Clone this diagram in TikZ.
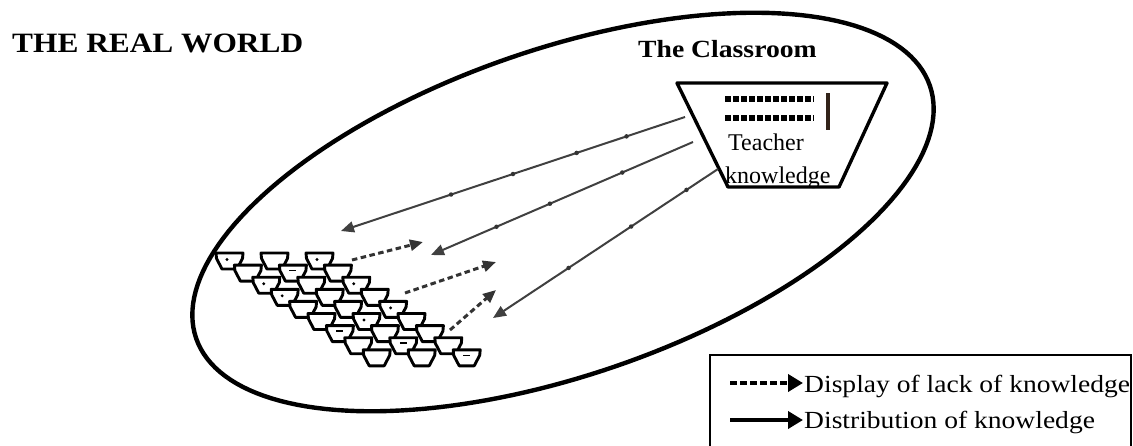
\documentclass[tikz,border=0pt]{standalone}
\usepackage{fontspec}
\setmainfont{Liberation Serif}
\newfontfamily\wfont{Liberation Serif}[FakeStretch=1.12]
\usetikzlibrary{arrows.meta}
\begin{document}
\begin{tikzpicture}[x=1pt,y=-1pt,
  lbl/.style={inner sep=0pt, anchor=base west},
  tiphead/.style={-{Triangle[length=13pt,width=11pt]}},
  solidarrow/.style={tiphead, draw=black!75, line width=2pt},
  dasharrow/.style={tiphead, draw=black!80, line width=3pt, dash pattern=on 5.5pt off 3.5pt},
  dotmark/.style={circle, fill=black!80, inner sep=0pt, minimum size=4.5pt},
  desk/.style={fill=white, draw=black, line width=2.9pt, line join=round},
  legarrow/.style={-{Triangle[length=15pt,width=17pt]}, draw=black, line width=4pt},
]
\useasboundingbox (0,0) rectangle (1133,445);

% the real world
\draw[line width=4.4pt] plot[domain=0:360,samples=181,variable=\t]
  ({563+388*cos(\t)*0.9455+163*sin(\t)*0.3256},{212-388*cos(\t)*0.3256+163*sin(\t)*0.9455}) -- cycle;

\node[lbl] (world) at (12,52) {\wfont\bfseries\fontsize{28}{30}\selectfont THE REAL WORLD};
\node[lbl] (room) at (638,57) {\wfont\bfseries\fontsize{24.7}{27}\selectfont The Classroom};

% teacher desk
\coordinate (tl) at (677,83);
\coordinate (tr) at (887,83);
\coordinate (br) at (839,187);
\coordinate (bl) at (728,187);
\draw[line width=3.4pt, line join=round] (tl) -- (tr) -- (br) -- (bl) -- cycle;
\coordinate (r1a) at (725,99);  \coordinate (r1b) at (814,99);
\coordinate (r2a) at (725,118); \coordinate (r2b) at (814,118);
\draw[line width=5.5pt, dash pattern=on 5.5pt off 2.5pt] (r1a) -- (r1b);
\draw[line width=5.5pt, dash pattern=on 5.5pt off 2.5pt] (r2a) -- (r2b);
\coordinate (bara) at (828,93); \coordinate (barb) at (828,130);
\draw[line width=4.8pt, draw={rgb,255:red,50;green,35;blue,25}] (bara) -- (barb);
\node[lbl] (teacher) at (728,150) {\fontsize{24}{26}\selectfont Teacher};
\node[lbl] (know) at (725,183) {\fontsize{24}{26}\selectfont knowledge};

% student desks
\foreach \r in {0,...,8} {
  \foreach \c in {0,1,2} {
    \path[desk] ({216+18.4*\r+45*\c},{253+12.1*\r}) -- ++(27,0) -- ++(-0.5,5.5) -- ++(-5.5,10.5) -- ++(-15,0) -- ++(-5.5,-10.5) -- cycle;
  }
}
\foreach \r/\c in {0/0,0/2,2/0,2/2,3/0,4/2,5/1} {
  \fill ({216+18.4*\r+45*\c+11},{253+12.1*\r+6.5}) circle (1.6pt);
}
\foreach \r/\c in {1/1,6/0,7/1,8/2} {
  \draw[line width=1.6pt] ({216+18.4*\r+45*\c+10},{253+12.1*\r+5.5}) -- ++(7,0);
}

% distribution of knowledge
\coordinate (s1) at (685,117); \coordinate (e1) at (341,231);
\coordinate (s2) at (693,142); \coordinate (e2) at (431,255);
\coordinate (s3) at (718,169); \coordinate (e3) at (493,318);
\draw[solidarrow] (s1) -- node[dotmark,pos=.17]{} node[dotmark,pos=.315]{} node[dotmark,pos=.5]{} node[dotmark,pos=.68]{} (e1);
\draw[solidarrow] (s2) -- node[dotmark,pos=.27]{} node[dotmark,pos=.546]{} node[dotmark,pos=.75]{} (e2);
\draw[solidarrow] (s3) -- node[dotmark,pos=.14]{} node[dotmark,pos=.386]{} node[dotmark,pos=.664]{} (e3);

% display of lack of knowledge
\coordinate (d1s) at (352,260); \coordinate (d1e) at (423,242);
\coordinate (d2s) at (405,293); \coordinate (d2e) at (496,262);
\coordinate (d3s) at (450,330); \coordinate (d3e) at (496,290);
\draw[dasharrow] (d1s) -- (d1e);
\draw[dasharrow] (d2s) -- (d2e);
\draw[dasharrow] (d3s) -- (d3e);

% legend
\coordinate (lg1) at (710,446); \coordinate (lg2) at (710,355);
\coordinate (lg3) at (1131,355); \coordinate (lg4) at (1131,446);
\draw[line width=2pt] (lg1) -- (lg2) -- (lg3) -- (lg4);
\coordinate (l1s) at (730,383); \coordinate (l1e) at (803,383);
\coordinate (l2s) at (730,420); \coordinate (l2e) at (803,420);
\draw[legarrow, dash pattern=on 6.5pt off 3.5pt] (l1s) -- (l1e);
\draw[legarrow] (l2s) -- (l2e);
\node[lbl] (lt1) at (804,392) {\wfont\fontsize{24.6}{27}\selectfont Display of lack of knowledge};
\node[lbl] (lt2) at (804,428) {\wfont\fontsize{24.6}{27}\selectfont Distribution of knowledge};
\end{tikzpicture}
\end{document}
